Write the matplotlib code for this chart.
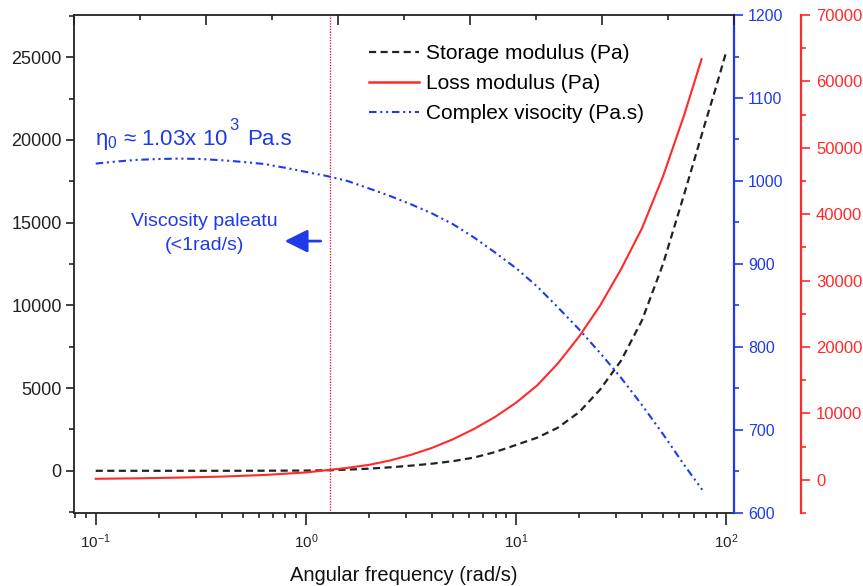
import matplotlib
matplotlib.use("Agg")
import matplotlib.pyplot as plt
from matplotlib.ticker import MultipleLocator, NullFormatter
from matplotlib.lines import Line2D

plt.rcParams["font.family"] = ["Liberation Sans", "DejaVu Sans"]
plt.rcParams["mathtext.fontset"] = "custom"
plt.rcParams["mathtext.rm"] = "Liberation Sans"
plt.rcParams["mathtext.it"] = "Liberation Sans:italic"

# ── Data ──────────────────────────────────────────────────────────────────────
storage_freq = [0.1, 0.2, 0.4, 0.63, 1.0, 1.26, 1.58, 2.0, 2.51, 3.16, 3.98,
                5.01, 6.31, 7.94, 10.0, 12.6, 15.8, 20.0, 25.1, 31.6, 39.8,
                50.1, 63.1, 79.4, 89.1, 100.0]
storage_pa = [0, 0, 0, 5, 15, 30, 70, 130, 210, 310, 430,
              580, 800, 1130, 1560, 2000, 2600, 3550, 4900, 6650, 9100,
              12500, 16700, 21000, 23100, 25300]

loss_freq = [0.1, 0.158, 0.251, 0.398, 0.631, 1.0, 1.26, 1.58, 2.0, 2.51,
             3.16, 3.98, 5.01, 6.31, 7.94, 10.0, 12.6, 15.8, 20.0, 25.1,
             31.6, 39.8, 50.1, 63.1, 76.4]
loss_pa = [150, 220, 330, 480, 720, 1100, 1450, 1800, 2250, 2900,
           3750, 4800, 6100, 7650, 9450, 11600, 14200, 17500, 21600, 26200,
           31700, 37900, 45700, 54900, 63350]

visc_freq = [0.1, 0.126, 0.158, 0.2, 0.251, 0.316, 0.398, 0.501, 0.631, 0.794,
             1.0, 1.26, 1.58, 2.0, 2.51, 3.16, 3.98, 5.01, 6.31, 7.94,
             10.0, 12.6, 15.8, 20.0, 25.1, 31.6, 39.8, 50.1, 63.1, 77.0]
visc_pas = [1021, 1023.5, 1025.5, 1026.5, 1027, 1026.5, 1025, 1023, 1020.5, 1016,
            1011, 1006, 1000, 991, 982, 972, 961, 948, 932, 914,
            895, 873, 848, 821, 793, 763, 730, 695, 658, 628]

plateau_freq = 1.31

# ── Colours ───────────────────────────────────────────────────────────────────
_C_DARK = "#222222"
_C_BLUE = "#1f3be8"
_C_RED = "#ff2a2a"
_C_VLINE = "#dd2255"

_LS_STORAGE = (0, (3.2, 2.0))
_LS_VISC = (0, (3.6, 1.8, 1.0, 1.8, 1.0, 1.8))

fig = plt.figure(figsize=(8.63, 5.86), dpi=100)
ax = fig.add_axes([0.0857, 0.1246, 0.7648, 0.8498])
ax_blue = ax.twinx()
ax_red = ax.twinx()
ax_top = ax.twiny()

# Curves
ax.plot(storage_freq, storage_pa, color=_C_DARK, lw=1.6, linestyle=_LS_STORAGE)
ax_red.plot(loss_freq, loss_pa, color=_C_RED, lw=1.5)
ax_blue.plot(visc_freq, visc_pas, color=_C_BLUE, lw=1.5, linestyle=_LS_VISC)
ax.axvline(plateau_freq, color=_C_VLINE, lw=1.0, linestyle=(0, (1, 1)))

# Bottom / left axis
ax.set_xscale("log")
ax.set_xlim(0.0788, 109)
ax.set_ylim(-2550, 27550)
ax.yaxis.set_major_locator(MultipleLocator(5000))
ax.yaxis.set_minor_locator(MultipleLocator(2500))
ax.tick_params(axis="x", which="major", length=8.5, width=1.2, labelsize=11,
               pad=5.5, colors=_C_DARK)
ax.tick_params(axis="x", which="minor", length=3.6, width=1.2, colors=_C_DARK)
ax.tick_params(axis="y", which="major", length=5.8, width=1.2, labelsize=13,
               pad=3, colors=_C_DARK)
ax.tick_params(axis="y", which="minor", length=3.6, width=1.2, colors=_C_DARK)
ax.tick_params(top=False, which="both")
ax.set_xlabel("Angular frequency (rad/s)", fontsize=14.5, color="#111111",
              labelpad=11)
for side in ["left", "bottom"]:
    ax.spines[side].set_linewidth(1.3)
    ax.spines[side].set_color(_C_DARK)
ax.spines["top"].set_visible(False)
ax.spines["right"].set_visible(False)

# Top linear axis (ticks only, pointing in)
ax_top.set_xlim(0, 100)
ax_top.xaxis.set_major_locator(MultipleLocator(20))
ax_top.xaxis.set_minor_locator(MultipleLocator(10))
ax_top.xaxis.set_major_formatter(NullFormatter())
ax_top.tick_params(axis="x", which="major", direction="in", length=7, width=1.2,
                   colors=_C_DARK)
ax_top.tick_params(axis="x", which="minor", direction="in", length=3.6,
                   width=1.2, colors=_C_DARK)
for side in ["left", "bottom", "right"]:
    ax_top.spines[side].set_visible(False)
ax_top.spines["top"].set_linewidth(1.3)
ax_top.spines["top"].set_color(_C_DARK)

# Blue right axis
ax_blue.set_ylim(600, 1200)
ax_blue.yaxis.set_major_locator(MultipleLocator(100))
ax_blue.yaxis.set_minor_locator(MultipleLocator(50))
ax_blue.tick_params(axis="y", which="major", length=6.5, width=1.2,
                    labelsize=11.5, pad=3.6, colors=_C_BLUE)
ax_blue.tick_params(axis="y", which="minor", length=3.6, width=1.2,
                    colors=_C_BLUE)
for side in ["left", "bottom", "top"]:
    ax_blue.spines[side].set_visible(False)
ax_blue.spines["right"].set_color(_C_BLUE)
ax_blue.spines["right"].set_linewidth(1.6)

# Red offset axis
ax_red.spines["right"].set_position(("outward", 48.2))
ax_red.set_ylim(-5000, 70000)
ax_red.yaxis.set_major_locator(MultipleLocator(10000))
ax_red.yaxis.set_minor_locator(MultipleLocator(5000))
ax_red.tick_params(axis="y", which="major", length=6.5, width=1.2, labelsize=12,
                   pad=4.3, colors=_C_RED)
ax_red.tick_params(axis="y", which="minor", length=3.6, width=1.2,
                   colors=_C_RED)
for side in ["left", "bottom", "top"]:
    ax_red.spines[side].set_visible(False)
ax_red.spines["right"].set_color(_C_RED)
ax_red.spines["right"].set_linewidth(1.6)

# Legend
handles = [
    Line2D([], [], color=_C_DARK, lw=1.6, linestyle=_LS_STORAGE),
    Line2D([], [], color=_C_RED, lw=1.8),
    Line2D([], [], color=_C_BLUE, lw=1.5, linestyle=_LS_VISC),
]
labels = ["Storage modulus (Pa)", "Loss modulus (Pa)", "Complex visocity (Pa.s)"]
ax_top.legend(handles, labels, loc="upper left", bbox_to_anchor=(0.447, 0.942),
              frameon=False, fontsize=15, handlelength=2.4, handletextpad=0.35,
              labelspacing=0.54, borderpad=0, borderaxespad=0)

# Annotations: eta_0 label (exponent placed by hand, raised as in the original)
ax_top.text(0.032, 0.739, r"$\mathrm{\eta_0}$ ≈ 1.03x 10",
            transform=ax.transAxes, fontsize=16, color=_C_BLUE, va="baseline",
            ha="left")
ax_top.text(0.243, 0.769, "3", transform=ax.transAxes, fontsize=12,
            color=_C_BLUE, va="baseline", ha="center")
ax_top.text(0.262, 0.739, "Pa.s", transform=ax.transAxes, fontsize=16,
            color=_C_BLUE, va="baseline", ha="left")
ax_top.text(0.198, 0.561, "Viscosity paleatu\n(<1rad/s)", transform=ax.transAxes,
            fontsize=14, color=_C_BLUE, ha="center", va="center",
            linespacing=1.5)
ax_top.annotate("", xy=(0.315, 0.546), xytext=(0.378, 0.546),
                xycoords=ax.transAxes, textcoords=ax.transAxes,
                arrowprops=dict(arrowstyle="-|>,head_length=0.7,head_width=0.35",
                                color=_C_BLUE, lw=2, mutation_scale=20))

fig.savefig("out.png", dpi=100, facecolor="white")
plt.close(fig)
